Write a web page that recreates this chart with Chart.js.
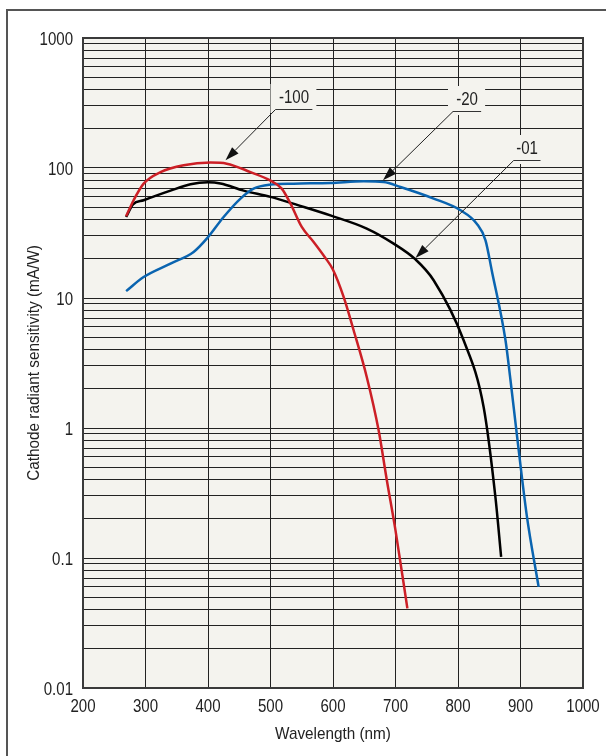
<!DOCTYPE html>
<html><head><meta charset="utf-8">
<script src="https://cdn.jsdelivr.net/npm/chart.js@4.4.1/dist/chart.umd.min.js"></script>
<style>html,body{margin:0;padding:0;background:#fff;overflow:hidden}canvas{display:block}</style>
</head><body>
<canvas id="c" width="606" height="756"></canvas>
<script>
// ---- data ----
const wl01  = [269, 280, 297, 340, 372, 400, 420, 457, 500, 545, 597, 654, 697, 732, 761, 809, 841, 860, 869];
const val01 = [42, 52.5, 56.5, 67, 75, 77.6, 76, 67, 60, 51.6, 43, 34.2, 26.2, 19.8, 13.7, 4.73, 1.45, 0.29, 0.102];

const wl100  = [269, 281, 297, 324, 361, 404, 430, 468, 500, 518, 532, 550, 569, 587, 600, 617, 633, 654, 673, 686, 700, 719];
const val100 = [42.5, 56.5, 75.8, 93, 105, 110, 108, 93, 80, 69.4, 53.2, 35.2, 27, 20.6, 16.5, 10.2, 5.65, 2.47, 0.96, 0.4, 0.163, 0.041];

const wl20  = [269, 297, 340, 377, 398, 425, 452, 473, 500, 537, 596, 649, 681, 708, 761, 804, 830, 844, 854, 876, 884, 894, 910, 929];
const val20 = [11.3, 14.5, 18.4, 22.6, 28.6, 42, 58.2, 69.4, 74.5, 75.8, 76.7, 79, 78, 71.4, 58.2, 47.3, 37.3, 27.8, 16.3, 4.73, 2.33, 0.906, 0.213, 0.06];

const xTicks = [200, 300, 400, 500, 600, 700, 800, 900, 1000];
const xTickLabels = ['200', '300', '400', '500', '600', '700', '800', '900', '1000'];
const yDecades = [0.01, 0.1, 1, 10, 100, 1000];
const yTickLabels = ['0.01', '0.1', '1', '10', '100', '1000'];

const xTitle = 'Wavelength (nm)';
const yTitle = 'Cathode radiant sensitivity (mA/W)';

// callout labels (in data units)
const annLabels = ['-100', '-20', '-01'];
const annStartX = [508, 792, 889];
const annStartY = [283, 273, 116];
const annEndX   = [567, 837, 932];
const annTipX   = [428, 680, 732];
const annTipY   = [114.6, 80.4, 20.3];

// ---- styling ----
const FONT = "'Liberation Sans', Arial, sans-serif";
const PLOT_BG = '#f4f3ee';
const GRID = '#222';
const TEXT = '#222';

function pts(xs, ys) { return xs.map((x, i) => ({x: x, y: ys[i]})); }

const yGrid = [];
yDecades.forEach((d, i) => {
  if (i === yDecades.length - 1) { yGrid.push(d); return; }
  for (let k = 1; k <= 9; k++) yGrid.push(+(d * k).toPrecision(6));
});

// condensed text helper (horizontal squeeze of a regular face)
function cText(ctx, txt, x, y, size, sx, align, baseline, rot) {
  ctx.save();
  ctx.translate(x, y);
  if (rot) ctx.rotate(rot);
  ctx.scale(sx, 1);
  ctx.font = size + 'px ' + FONT;
  ctx.fillStyle = TEXT;
  ctx.textAlign = align;
  ctx.textBaseline = baseline;
  ctx.fillText(txt, 0, 0);
  ctx.restore();
}

const decor = {
  id: 'decor',
  beforeDraw(chart) {
    const {ctx, chartArea: a} = chart;
    ctx.save();
    ctx.fillStyle = '#fff';
    ctx.fillRect(0, 0, chart.width, chart.height);
    ctx.strokeStyle = '#555';
    ctx.lineWidth = 2;
    ctx.strokeRect(7, 10, 1200, 1200);
    ctx.fillStyle = PLOT_BG;
    ctx.fillRect(a.left, a.top, a.right - a.left, a.bottom - a.top);
    ctx.restore();
  },
  beforeDatasetsDraw(chart) {
    const {ctx, chartArea: a} = chart;
    ctx.save();
    ctx.strokeStyle = '#3a3a3a';
    ctx.lineWidth = 2;
    ctx.strokeRect(a.left, a.top, a.right - a.left, a.bottom - a.top);
    ctx.restore();
  },
  afterDatasetsDraw(chart) {
    const {ctx} = chart;
    const xs = chart.scales.x, ys = chart.scales.y;
    ctx.save();
    for (let i = 0; i < annLabels.length; i++) {
      const ux = xs.getPixelForValue(annStartX[i]);
      const uy = Math.round(ys.getPixelForValue(annStartY[i]));
      const ex = xs.getPixelForValue(annEndX[i]);
      const tx = xs.getPixelForValue(annTipX[i]);
      const ty = ys.getPixelForValue(annTipY[i]);
      ctx.fillStyle = PLOT_BG;
      ctx.fillRect(ux - 5, uy - 25, (ex - ux) + 9, 29);
      ctx.strokeStyle = '#333';
      ctx.lineWidth = 1;
      ctx.beginPath();
      ctx.moveTo(ux, uy + 0.5);
      ctx.lineTo(ex, uy + 0.5);
      ctx.stroke();
      cText(ctx, annLabels[i], (ux + ex) / 2, uy - 6, 17.5, 0.86, 'center', 'alphabetic');
      const ang = Math.atan2(ty - uy, tx - ux);
      const hl = 14, hw = 4.5;
      const bx = tx - hl * Math.cos(ang), by = ty - hl * Math.sin(ang);
      ctx.strokeStyle = '#222';
      ctx.lineWidth = 1;
      ctx.beginPath();
      ctx.moveTo(ux, uy + 0.5);
      ctx.lineTo(bx, by);
      ctx.stroke();
      ctx.fillStyle = '#111';
      ctx.beginPath();
      ctx.moveTo(tx, ty);
      ctx.lineTo(bx + hw * Math.sin(ang), by - hw * Math.cos(ang));
      ctx.lineTo(bx - hw * Math.sin(ang), by + hw * Math.cos(ang));
      ctx.closePath();
      ctx.fill();
    }
    ctx.restore();
  },
  afterDraw(chart) {
    const {ctx, chartArea: a} = chart;
    const xs = chart.scales.x, ys = chart.scales.y;
    // tick labels placed through the scales
    xTicks.forEach((v, i) => {
      cText(ctx, xTickLabels[i], xs.getPixelForValue(v), a.bottom + 24, 17.5, 0.86, 'center', 'alphabetic');
    });
    yDecades.forEach((v, i) => {
      cText(ctx, yTickLabels[i], a.left - 10, ys.getPixelForValue(v) + 7.2, 17.5, 0.86, 'right', 'alphabetic');
    });
    // axis titles
    cText(ctx, xTitle, (a.left + a.right) / 2, 738.5, 17, 0.9, 'center', 'alphabetic');
    cText(ctx, yTitle, 34, (a.top + a.bottom) / 2, 17, 0.9, 'center', 'middle', -Math.PI / 2);
  }
};

const lineStyle = {pointRadius: 0, borderWidth: 2.5, fill: false, cubicInterpolationMode: 'monotone'};

new Chart(document.getElementById('c'), {
  type: 'line',
  data: {
    datasets: [
      Object.assign({label: '-100', data: pts(wl100, val100), borderColor: '#cc1f26'}, lineStyle),
      Object.assign({label: '-20', data: pts(wl20, val20), borderColor: '#0a64b0'}, lineStyle),
      Object.assign({label: '-01', data: pts(wl01, val01), borderColor: '#000000'}, lineStyle)
    ]
  },
  options: {
    responsive: false,
    animation: false,
    events: [],
    layout: {padding: {top: 38, right: 23, left: 0, bottom: 0}},
    plugins: {legend: {display: false}, tooltip: {enabled: false}, title: {display: false}},
    scales: {
      x: {
        type: 'linear', min: 200, max: 1000,
        afterBuildTicks(s) { s.ticks = xTicks.map(v => ({value: v})); },
        afterFit(s) { s.height = 68; },
        grid: {color: GRID, lineWidth: 1, drawTicks: false},
        border: {display: false},
        ticks: {display: false, autoSkip: false}
      },
      y: {
        type: 'logarithmic', min: 0.01, max: 1000,
        afterBuildTicks(s) { s.ticks = yGrid.map(v => ({value: v})); },
        afterFit(s) { s.width = 83; },
        grid: {color: GRID, lineWidth: 1, drawTicks: false},
        border: {display: false},
        ticks: {display: false, autoSkip: false}
      }
    }
  },
  plugins: [decor]
});
</script>
</body></html>
